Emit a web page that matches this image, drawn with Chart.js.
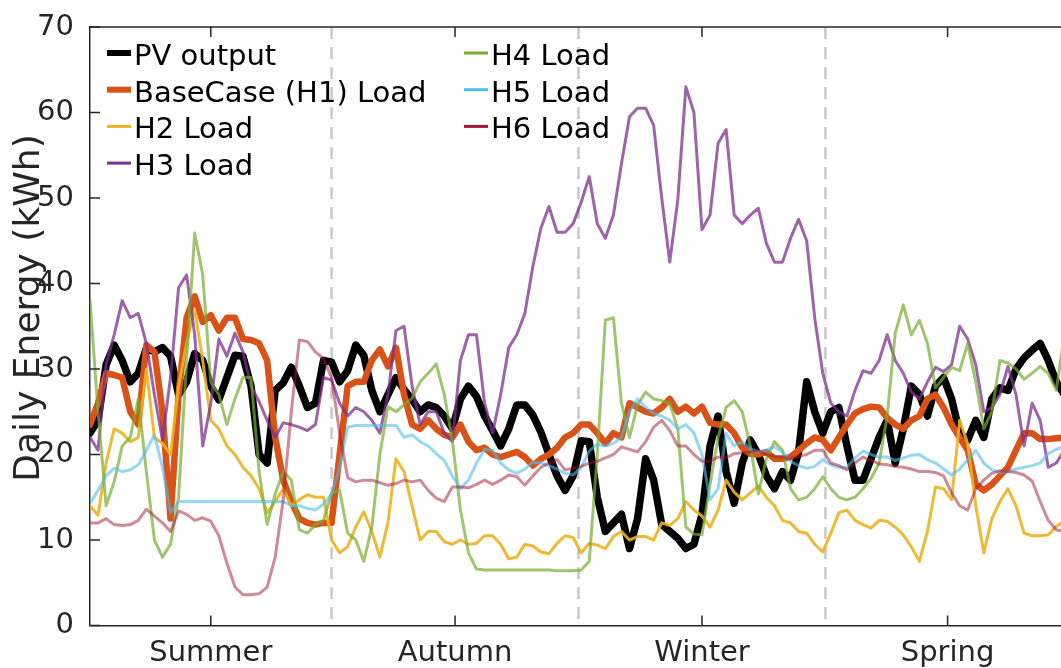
<!DOCTYPE html>
<html>
<head>
<meta charset="utf-8">
<title>Daily Energy</title>
<script src="https://cdn.jsdelivr.net/npm/chart.js@4.4.1/dist/chart.umd.min.js"></script>
<style>
  html, body { margin: 0; padding: 0; background: #fff; overflow: hidden; }
  #wrap { width: 1061px; height: 668px; overflow: hidden; }
  canvas { display: block; }
</style>
</head>
<body>
<div id="wrap"><canvas id="energyChart" width="1080" height="668"></canvas></div>
<script>
// ---- data: daily energy (kWh), sampled every third day of the year ----
const seasons = ['Summer', 'Autumn', 'Winter', 'Spring'];
const seasonMid = [45, 136, 228, 319.5];     // tick positions (day of year)
const seasonEdges = [90, 182, 274];          // dashed separators (day of year)

const pvOutput = [
  22.5, 24, 30.5, 32.8, 31, 28.5, 29.5, 32.4, 32, 32.5,
  31.5, 27, 28.5, 31.8, 31, 28, 26.4, 29, 31.6, 31.5,
  28, 20, 19, 27.5, 28.4, 30.2, 28, 25.5, 26, 31,
  30.8, 28.5, 29.8, 32.8, 31.6, 27.5, 25, 27, 29, 27.6,
  26.4, 25, 25.8, 25.5, 24.5, 23, 26.5, 28, 26.8, 24.5,
  22.8, 21, 23, 25.8, 25.8, 24.6, 22.6, 20, 17.5, 15.8,
  17.5, 21.6, 21.5, 15, 11, 12, 13, 9, 12.5, 19.5,
  17, 11.8, 11, 10.2, 9, 9.5, 13, 21, 24.5, 18,
  14.3, 19, 21.7, 20, 17.5, 16, 18, 17, 20.3, 28.5,
  25, 22.5, 25, 25.5, 21, 17, 17, 19.5, 22, 24,
  19, 23, 28, 27, 24.5, 28, 29, 26.5, 22.5, 21.7,
  24, 22, 26.5, 27.8, 27.5, 30, 31.3, 32.2, 33, 31,
  28.5, 27
];

const baseCaseLoad = [
  23.5, 26, 29.5, 29.3, 29, 25, 23.5, 32.8, 32, 25,
  12.5, 27, 36, 38.5, 35.5, 36.3, 34.5, 36, 36, 33.5,
  33.4, 33, 31, 22, 17, 14.5, 12.5, 12, 11.8, 12,
  12, 20, 28, 28.5, 28.5, 31, 32.3, 30.3, 32.5, 27,
  23.5, 23, 24, 23, 22.3, 22, 23.5, 21.5, 20.5, 20.8,
  20, 19.7, 20, 20.3, 19.7, 18.7, 19.5, 20, 20.8, 22,
  22.5, 23.5, 23.5, 22.5, 21.3, 22.5, 22, 26, 25.5, 25,
  24.8, 25.5, 26.5, 25, 25.6, 24.8, 25.6, 23.7, 23.5, 23.5,
  22.5, 20.8, 20.1, 20, 20.3, 19.5, 19.5, 19.7, 20.5, 21.3,
  22, 21.7, 20.5, 22, 23.5, 24.8, 25.3, 25.6, 25.5, 24.3,
  23.5, 23, 24, 24.5, 26.5, 27, 25.5, 23.5, 22, 20.5,
  16.5, 15.8, 16.5, 17.5, 18.5, 20.5, 22.5, 22.5, 21.8, 21.8,
  21.9, 22
];

const h2Load = [
  14, 12.9, 19, 23, 22.5, 21.5, 22, 30, 22, 21.3,
  20, 28, 33, 37, 31, 24, 23, 21, 20, 18.5,
  17.5, 16, 13.2, 14.5, 16, 14, 14.7, 15.3, 15, 15,
  10, 8.5, 9.2, 11.5, 13.3, 11, 8, 12, 19.5, 18,
  14, 10, 11, 11, 9.8, 9.5, 10, 9.5, 9.6, 10.5,
  10.5, 9.5, 7.8, 8, 9.5, 9.3, 8.6, 8.4, 9.6, 10.5,
  10.3, 8.5, 9.6, 9.4, 9, 10.4, 11, 10, 10.4, 10.4,
  10, 12, 11.7, 12.5, 14.5, 13.5, 12.8, 11.5, 13.5, 17,
  15.6, 14.7, 15.5, 16.3, 15, 14, 12.3, 12, 11, 10.8,
  9.5, 8.6, 10.8, 13.2, 13.5, 12.3, 11.8, 11.4, 12.3, 12.2,
  11.5, 10.6, 9.2, 7.5, 11, 16.2, 16, 14.7, 24, 21.3,
  14, 8.5, 12.5, 14.5, 16, 14, 10.8, 10.5, 10.5, 10.6,
  11.6, 12.2
];

const h3Load = [
  22, 20.5, 30.5, 34, 38, 36, 36.5, 33, 27, 21.7,
  29, 39.5, 41, 34, 21, 26, 33.5, 31.5, 34.2, 32,
  28, 26.2, 24, 22, 23.7, 23.5, 23.2, 22.8, 23.5, 29,
  28.7, 26, 24.5, 25.5, 25, 24, 22.5, 27, 34.5, 35,
  28, 23.5, 25, 25, 22.5, 21.5, 31, 34, 34, 26,
  22.5, 27, 32.5, 34, 36.5, 42, 46.5, 49, 46, 46,
  47, 49.5, 52.5, 47, 45.3, 48, 54, 59.5, 60.5, 60.5,
  58.5, 50, 42.5, 49.8, 63, 60, 46.3, 48, 56.4, 58,
  48, 47, 48, 48.8, 44.7, 42.5, 42.5, 45.3, 47.5, 45,
  36, 29.5, 26, 25, 24.5, 27.5, 29.8, 29.5, 31, 34,
  31, 29.5, 27.3, 26.5, 28.5, 30.2, 29.7, 30.5, 35, 33.5,
  30.5, 25, 25.5, 27, 30.3, 27, 21, 26, 24, 18.5,
  19, 20.5
];

const h4Load = [
  38, 25, 14, 16.8, 21, 22, 26.5, 18, 10, 8,
  9.5, 15, 31, 45.9, 41, 28.5, 27, 23.5, 26.5, 29,
  29, 18, 11.8, 15.4, 18, 17, 11.2, 10.8, 11.8, 12.3,
  15.5, 15.8, 10.8, 10, 7.5, 11.5, 20, 25.6, 25, 25.8,
  26.6, 28.5, 29.5, 30.6, 27, 21.7, 13.5, 8.5, 6.6, 6.5,
  6.5, 6.5, 6.5, 6.5, 6.5, 6.5, 6.5, 6.5, 6.4, 6.4,
  6.4, 6.5, 7.5, 20, 35.7, 36, 26, 22, 25.8, 27.3,
  26.5, 26.3, 26, 23, 11.5, 10.7, 10.6, 16.5, 22, 25.5,
  26.3, 25, 21, 15.4, 19.5, 21.5, 20.5, 16, 14.7, 15,
  16, 17.4, 16, 15, 14.7, 15, 16, 17.2, 19, 24.5,
  34.2, 37.5, 34, 35.7, 33, 27.8, 29, 30.2, 29.8, 33,
  28.5, 23, 25, 31, 30.7, 30, 28.8, 29.5, 30.3, 29.5,
  27.5, 34
];

const h5Load = [
  14.3, 15.8, 17.5, 18.4, 18, 18.2, 18.8, 20.5, 22.3, 18.5,
  13.2, 14.5, 14.5, 14.5, 14.5, 14.5, 14.5, 14.5, 14.5, 14.5,
  14.5, 14.5, 14.5, 14.5, 14.5, 14, 14, 13.7, 13.5, 14.2,
  15.4, 18.5, 23.2, 23.4, 23.4, 23.4, 23.4, 23.4, 23.4, 22,
  22.3, 21.5, 21, 20.1, 19.3, 17.5, 16, 17, 19, 20.6,
  20.5, 19, 18.2, 17.8, 18.3, 19.1, 19, 18.7, 18.3, 17.8,
  17.6, 18.5, 20.4, 21.2, 21, 21.3, 22, 25, 26.5, 25.5,
  24.8, 24.5, 24, 23, 23.5, 22.5, 20, 14.7, 16, 22.5,
  21, 21.5, 20.7, 20.3, 20.5, 20.9, 20.3, 19.2, 18.7, 18.4,
  18.6, 19.4, 18.8, 18.5, 18.5, 19.6, 20.4, 20, 19.7, 19.7,
  19.3, 19.6, 19.9, 20, 19.4, 19, 18.3, 17.6, 18.3, 19.4,
  20.5, 19, 18.2, 17.9, 18, 18.3, 18.5, 18.7, 19, 20.1,
  20.6, 21
];

const h6Load = [
  12, 12, 12.5, 11.8, 11.7, 11.8, 12.3, 13.6, 12.8, 12,
  11, 13.4, 13, 12.3, 12.6, 12.2, 10.5, 7.3, 4.5, 3.6,
  3.6, 3.7, 4.5, 8, 14.7, 25, 33.4, 33.2, 32, 31.2,
  29, 22.5, 17.3, 16.8, 17, 17, 16.7, 16.4, 16.6, 17,
  16.8, 17, 15.8, 14.9, 14.5, 16.2, 16.2, 16.1, 16.5, 17,
  16.5, 17, 17.6, 17.4, 16.4, 17.5, 18.5, 19, 19.4, 18.2,
  18.4, 18.6, 19, 19.2, 19.6, 20, 20.9, 20.6, 20.3, 21.5,
  23.2, 24, 22.8, 21, 21, 20, 19.2, 19.2, 19.7, 19.6,
  20.1, 20.2, 20.3, 20.5, 20, 19.8, 19.7, 19.5, 19.8, 20,
  20.5, 20.5, 19, 18.7, 18.2, 19, 19.7, 19.3, 18.9, 18.8,
  18.6, 18.5, 18.3, 18, 18, 17.9, 17.5, 15.5, 14, 13.5,
  16, 17, 17.8, 18.1, 18, 17.9, 17.6, 16.9, 14.5, 12.3,
  11.2, 11
];

const days = pvOutput.map((_, i) => i * 3);

// ---- styling ----
const FONT = "'DejaVu Sans', sans-serif";
const AXIS_COLOR = '#262626';

const series = [
  { label: 'PV output',            values: pvOutput,     key: '#000000', stroke: '#000000',                width: 7.5, legendWidth: 6 },
  { label: 'BaseCase (H1) Load',   values: baseCaseLoad, key: '#D95319', stroke: '#D95319',                width: 6.5, legendWidth: 6 },
  { label: 'H2 Load',              values: h2Load,       key: '#EDB120', stroke: 'rgba(237,177,32,0.9)',   width: 3,   legendWidth: 3 },
  { label: 'H3 Load',              values: h3Load,       key: '#7E2F8E', stroke: 'rgba(126,47,142,0.75)',  width: 3,   legendWidth: 3 },
  { label: 'H4 Load',              values: h4Load,       key: '#77AC30', stroke: 'rgba(119,172,48,0.7)',   width: 3,   legendWidth: 3 },
  { label: 'H5 Load',              values: h5Load,       key: '#4DBEEE', stroke: 'rgba(77,190,238,0.6)',   width: 3,   legendWidth: 3 },
  { label: 'H6 Load',              values: h6Load,       key: '#A2142F', stroke: 'rgba(162,20,47,0.5)',    width: 3,   legendWidth: 3 }
];

// ============================================================
// FRAME — season separators, box, inward ticks, y title, legend
// ============================================================

const frame = {
  id: 'frame',
  beforeDatasetsDraw(chart) {
    const { ctx, chartArea: a, scales: { x } } = chart;
    ctx.save();
    ctx.strokeStyle = '#c8c8c8';
    ctx.lineWidth = 2.5;
    ctx.setLineDash([12, 8]);
    seasonEdges.forEach(d => {
      const px = x.getPixelForValue(d);
      ctx.beginPath();
      ctx.moveTo(px, a.top);
      ctx.lineTo(px, a.bottom);
      ctx.stroke();
    });
    ctx.restore();
  },
  afterDraw(chart) {
    const { ctx, chartArea: a, scales: { x, y } } = chart;
    ctx.save();

    // top edge of the box
    ctx.strokeStyle = AXIS_COLOR;
    ctx.lineWidth = 1.5;
    ctx.beginPath();
    ctx.moveTo(a.left, a.top);
    ctx.lineTo(a.right, a.top);
    ctx.stroke();

    // inward tick marks
    ctx.beginPath();
    y.ticks.forEach(t => {
      const py = y.getPixelForValue(t.value);
      ctx.moveTo(a.left, py);
      ctx.lineTo(a.left + 10, py);
    });
    seasonMid.forEach(d => {
      const px = x.getPixelForValue(d);
      ctx.moveTo(px, a.bottom);
      ctx.lineTo(px, a.bottom - 10);
      ctx.moveTo(px, a.top);
      ctx.lineTo(px, a.top + 10);
    });
    ctx.stroke();

    // y axis title
    ctx.save();
    ctx.translate(39, 308);
    ctx.rotate(-Math.PI / 2);
    ctx.fillStyle = AXIS_COLOR;
    ctx.font = `36px ${FONT}`;
    ctx.textAlign = 'center';
    ctx.textBaseline = 'alphabetic';
    ctx.fillText('Daily Energy (kWh)', 0, 0);
    ctx.restore();

    // legend, two columns
    ctx.font = `29px ${FONT}`;
    ctx.textAlign = 'left';
    ctx.textBaseline = 'alphabetic';
    ctx.setLineDash([]);
    chart.data.datasets.forEach((ds, i) => {
      const col = i < 4 ? 0 : 1;
      const row = i < 4 ? i : i - 4;
      const x0 = col === 0 ? 107 : 464;
      const base = 65 + row * 36.7;
      ctx.strokeStyle = ds.legendColor;
      ctx.lineWidth = ds.legendWidth;
      ctx.beginPath();
      ctx.moveTo(x0, base - 12);
      ctx.lineTo(x0 + 24, base - 12);
      ctx.stroke();
      ctx.fillStyle = '#000';
      ctx.fillText(ds.label, x0 + 27, base);
    });

    ctx.restore();
  }
};

// ============================================================
// CHART
// ============================================================

const tickFont = { family: FONT, size: 29 };

new Chart(document.getElementById('energyChart').getContext('2d'), {
  type: 'line',
  data: {
    datasets: series.map((s, i) => ({
      label: s.label,
      data: days.map((d, j) => ({ x: d, y: s.values[j] })),
      borderColor: s.stroke,
      borderWidth: s.width,
      pointRadius: 0,
      tension: 0,
      borderJoinStyle: 'round',
      borderCapStyle: 'round',
      order: series.length - i,
      legendColor: s.key,
      legendWidth: s.legendWidth
    }))
  },
  options: {
    responsive: false,
    animation: false,
    devicePixelRatio: 1,
    layout: { padding: { top: 27, right: 10.3, left: 0, bottom: 0 } },
    plugins: {
      legend: { display: false },
      tooltip: { enabled: false }
    },
    scales: {
      x: {
        type: 'linear',
        min: 0,
        max: 365,
        grid: { display: false },
        border: { display: true, color: AXIS_COLOR, width: 1.5 },
        afterBuildTicks: s => { s.ticks = seasonMid.map(v => ({ value: v })); },
        afterFit: s => { s.height = 42.5; },
        ticks: {
          autoSkip: false,
          maxRotation: 0,
          padding: 3,
          color: AXIS_COLOR,
          font: tickFont,
          callback: (v, i) => seasons[i]
        }
      },
      y: {
        min: 0,
        max: 70,
        grid: { display: false },
        border: { display: true, color: AXIS_COLOR, width: 1.5 },
        afterFit: s => { s.width = 90; },
        ticks: {
          stepSize: 10,
          padding: 8,
          color: AXIS_COLOR,
          font: tickFont
        }
      }
    }
  },
  plugins: [frame]
});
</script>
</body>
</html>
